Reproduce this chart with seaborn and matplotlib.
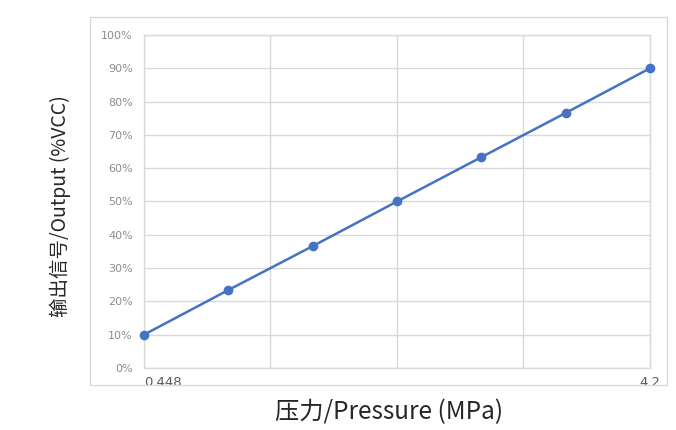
import numpy as np
import pandas as pd
import matplotlib
matplotlib.use("Agg")
import matplotlib.pyplot as plt
import seaborn as sns
from matplotlib.patches import Rectangle

# data
pressure = [0.448, 1.073, 1.699, 2.324, 2.949, 3.575, 4.2]
output_pct = [10.0, 23.4, 36.6, 50.0, 63.3, 76.6, 90.0]
x_tick_vals = [0.448, 4.2]
x_tick_labels = ["0.448", "4.2"]
y_ticks = list(range(0, 101, 10))

df = pd.DataFrame({"pressure": pressure, "output": output_pct})

sns.set_theme(style="whitegrid")
plt.rcParams['font.family'] = ['Noto Sans CJK SC', 'DejaVu Sans']

fig = plt.figure(figsize=(6.76, 4.30), dpi=100)
# outer chart-area frame
fig.patches.append(Rectangle((0.1331, 0.1047), 0.8536, 0.8558, transform=fig.transFigure,
                             fill=False, edgecolor="#d9d9d9", linewidth=1.0))
ax = fig.add_axes([0.213, 0.1442, 0.7485, 0.7744])

sns.lineplot(data=df, x="pressure", y="output", ax=ax, color="#4472C4",
             linewidth=1.8, marker="o", markersize=7, markeredgewidth=0,
             clip_on=False, zorder=5)

ax.set_xlim(0.448, 4.2)
ax.set_ylim(0, 100)
ax.set_yticks(y_ticks)
ax.set_yticklabels([f"{v}%" for v in y_ticks], color="#8c8c8c", fontsize=8,
                   family=['DejaVu Sans'])
# vertical grid at quarter positions, no labels there
grid_x = np.linspace(0.448, 4.2, 5)
ax.set_xticks(grid_x)
ax.set_xticklabels([""] * 5)
ax.tick_params(axis="both", length=0, pad=8)
ax.grid(True, color="#d9d9d9", linewidth=1.0)
for s in ax.spines.values():
    s.set_color("#d9d9d9")
    s.set_linewidth(1.0)

# end labels on x axis
ax.text(x_tick_vals[0], -2.5, x_tick_labels[0], ha="left", va="top",
        color="#595959", fontsize=9.5, family=['DejaVu Sans'])
ax.text(x_tick_vals[1], -2.5, x_tick_labels[1], ha="center", va="top",
        color="#595959", fontsize=9.5, family=['DejaVu Sans'])

ax.set_xlabel("压力/Pressure (MPa)", fontsize=17.5, color="#262626", labelpad=0)
ax.xaxis.set_label_coords(0.484, -0.092)
ax.set_ylabel("输出信号/Output (%VCC)", fontsize=14, color="#262626")
ax.yaxis.set_label_coords(-0.144, 0.487)

fig.savefig("out.png", dpi=100)
